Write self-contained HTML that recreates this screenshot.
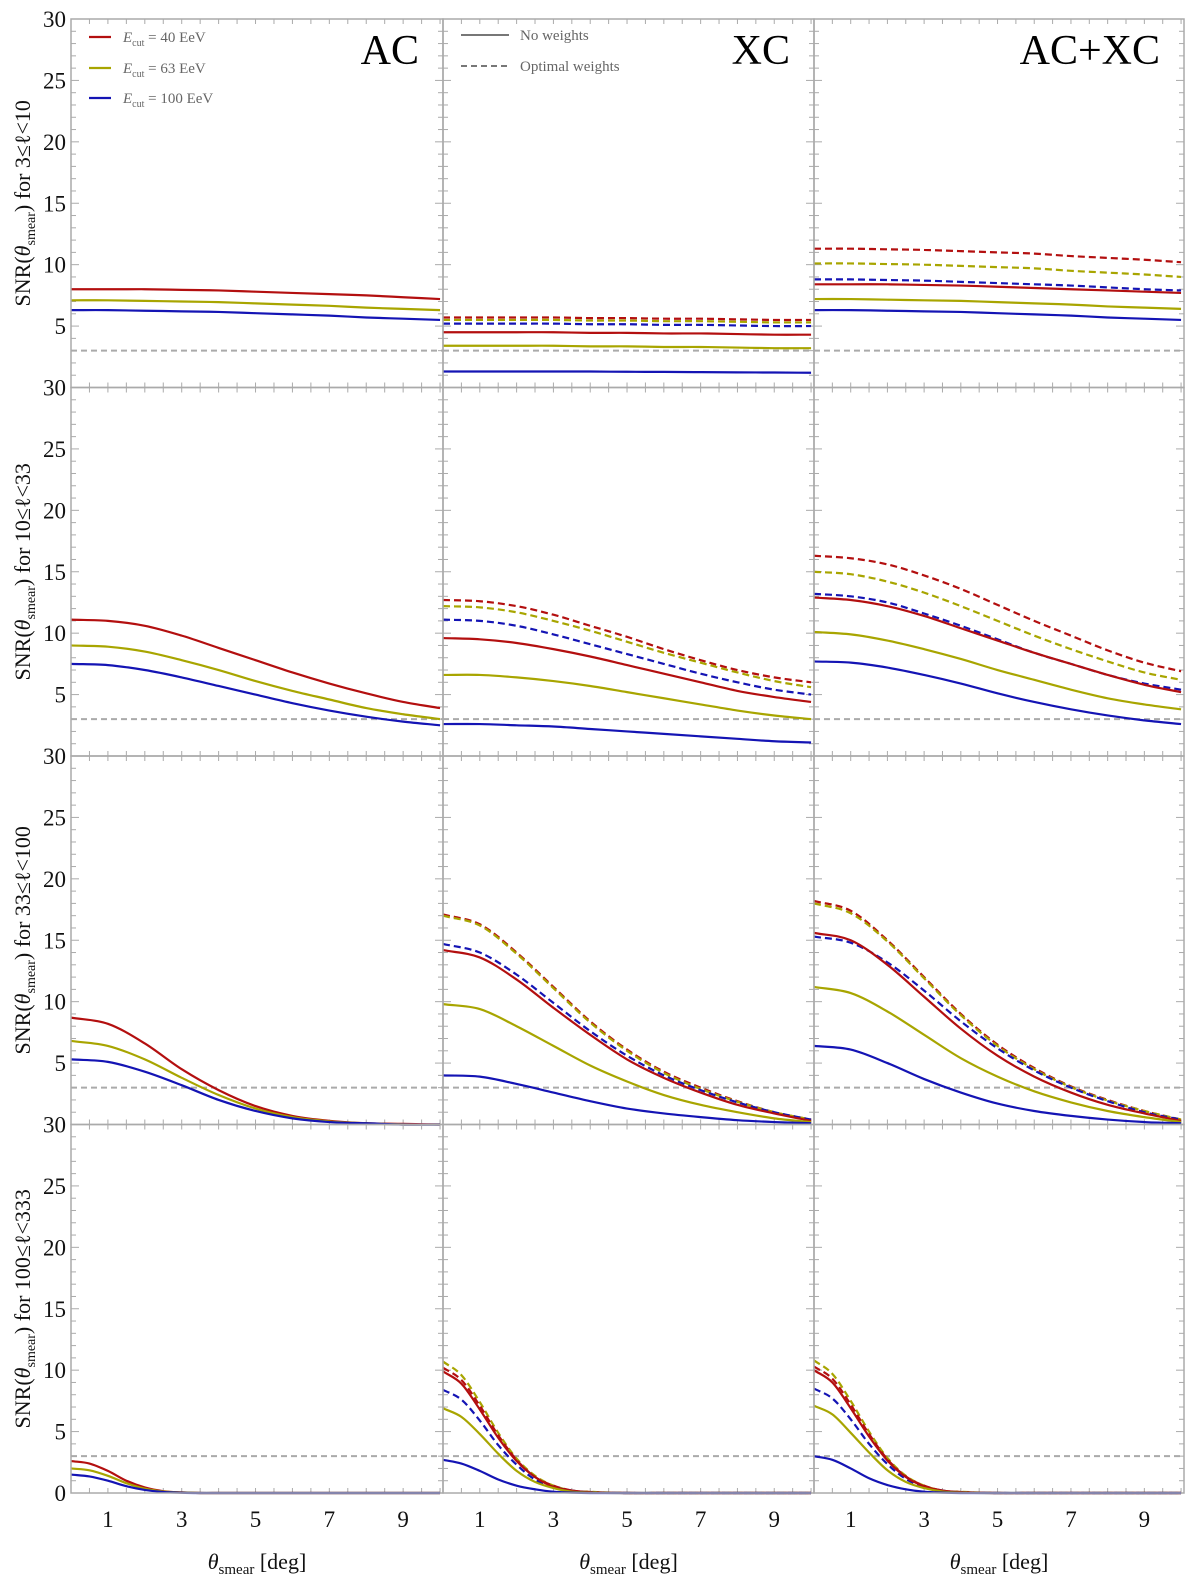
<!DOCTYPE html>
<html><head><meta charset="utf-8">
<style>
html,body{margin:0;padding:0;background:#fff;}
svg{display:block;font-family:"Liberation Serif","DejaVu Serif",serif;}
</style></head>
<body>
<svg id="chart" width="1200" height="1588" viewBox="0 0 1200 1588" xmlns="http://www.w3.org/2000/svg"></svg>
<script>
// ---- data ----
const xsCoarse = [0,1,2,3,4,5,6,7,8,9,10];
const xsFine = [0,0.5,1,1.5,2,2.5,3,3.5,4,5,6,8,10];
const rowLabels = ["3≤ℓ<10","10≤ℓ<33","33≤ℓ<100","100≤ℓ<333"];
const colTitles = ["AC","XC","AC+XC"];
const yTickLabels = [5,10,15,20,25,30];
const xTickLabels = [1,3,5,7,9];
const threshold = 3;

// row 1
const r1_ac_red = [8.0,8.0,8.0,7.95,7.9,7.8,7.7,7.6,7.5,7.35,7.2];
const r1_ac_olv = [7.1,7.1,7.05,7.0,6.95,6.85,6.75,6.65,6.5,6.4,6.3];
const r1_ac_blu = [6.3,6.3,6.25,6.2,6.15,6.05,5.95,5.85,5.7,5.6,5.5];
const r1_xc_red = [4.5,4.5,4.5,4.5,4.45,4.45,4.4,4.4,4.35,4.3,4.3];
const r1_xc_olv = [3.4,3.4,3.4,3.4,3.35,3.35,3.3,3.3,3.25,3.2,3.2];
const r1_xc_blu = [1.3,1.3,1.3,1.3,1.3,1.28,1.27,1.25,1.23,1.22,1.2];
const r1_xc_redD = [5.7,5.7,5.7,5.7,5.65,5.65,5.6,5.6,5.55,5.5,5.5];
const r1_xc_olvD = [5.5,5.5,5.5,5.5,5.45,5.45,5.4,5.4,5.35,5.3,5.3];
const r1_xc_bluD = [5.2,5.2,5.2,5.2,5.15,5.15,5.1,5.1,5.05,5.0,5.0];
const r1_ax_redD = [11.3,11.3,11.25,11.2,11.1,11.0,10.9,10.7,10.55,10.4,10.2];
const r1_ax_olvD = [10.1,10.1,10.05,10.0,9.9,9.8,9.7,9.5,9.35,9.2,9.0];
const r1_ax_bluD = [8.8,8.8,8.75,8.7,8.6,8.5,8.4,8.3,8.15,8.0,7.9];
const r1_ax_red = [8.4,8.4,8.4,8.35,8.3,8.2,8.1,8.0,7.9,7.8,7.7];
const r1_ax_olv = [7.2,7.2,7.15,7.1,7.05,6.95,6.85,6.75,6.6,6.5,6.4];
const r1_ax_blu = [6.3,6.3,6.25,6.2,6.15,6.05,5.95,5.85,5.7,5.6,5.5];
// row 2
const r2_ac_red = [11.1,11.0,10.6,9.8,8.8,7.8,6.8,5.9,5.1,4.4,3.9];
const r2_ac_olv = [9.0,8.9,8.5,7.8,7.0,6.1,5.3,4.6,3.9,3.4,3.0];
const r2_ac_blu = [7.5,7.4,7.0,6.4,5.7,5.0,4.3,3.7,3.2,2.8,2.5];
const r2_xc_red = [9.6,9.5,9.2,8.7,8.1,7.4,6.7,6.0,5.3,4.8,4.4];
const r2_xc_olv = [6.6,6.6,6.4,6.1,5.7,5.2,4.7,4.2,3.7,3.3,3.0];
const r2_xc_blu = [2.6,2.6,2.5,2.4,2.2,2.0,1.8,1.6,1.4,1.2,1.1];
const r2_xc_redD = [12.7,12.6,12.2,11.5,10.6,9.7,8.7,7.8,7.0,6.4,6.0];
const r2_xc_olvD = [12.2,12.1,11.7,11.0,10.2,9.3,8.4,7.6,6.8,6.1,5.6];
const r2_xc_bluD = [11.1,11.0,10.6,9.9,9.1,8.3,7.5,6.7,6.0,5.4,5.0];
const r2_ax_redD = [16.3,16.1,15.6,14.7,13.6,12.3,11.0,9.8,8.6,7.6,6.9];
const r2_ax_olvD = [15.0,14.8,14.2,13.3,12.2,11.0,9.8,8.7,7.7,6.8,6.2];
const r2_ax_bluD = [13.2,13.0,12.5,11.6,10.6,9.5,8.4,7.5,6.6,5.9,5.4];
const r2_ax_red = [12.9,12.7,12.2,11.4,10.4,9.4,8.4,7.5,6.6,5.8,5.2];
const r2_ax_olv = [10.1,9.9,9.4,8.7,7.9,7.0,6.2,5.4,4.7,4.2,3.8];
const r2_ax_blu = [7.7,7.6,7.2,6.6,5.9,5.1,4.4,3.8,3.3,2.9,2.6];
// row 3
const r3_ac_red = [8.7,8.2,6.6,4.5,2.8,1.5,0.7,0.3,0.1,0.05,0];
const r3_ac_olv = [6.8,6.4,5.3,3.8,2.4,1.3,0.6,0.25,0.1,0,0];
const r3_ac_blu = [5.3,5.1,4.3,3.2,2.0,1.1,0.5,0.2,0.1,0,0];
const r3_xc_red = [14.2,13.6,11.8,9.5,7.3,5.3,3.8,2.6,1.6,0.9,0.3];
const r3_xc_olv = [9.8,9.4,8.0,6.4,4.8,3.5,2.4,1.6,1.0,0.5,0.2];
const r3_xc_blu = [4.0,3.9,3.3,2.6,1.9,1.3,0.9,0.6,0.35,0.2,0.1];
const r3_xc_redD = [17.1,16.3,14.0,11.2,8.4,6.1,4.3,3.0,1.9,1.0,0.4];
const r3_xc_olvD = [17.0,16.2,13.9,11.1,8.3,6.0,4.2,2.9,1.85,1.0,0.4];
const r3_xc_bluD = [14.7,14.0,12.2,9.9,7.6,5.6,4.0,2.8,1.8,1.0,0.4];
const r3_ax_redD = [18.2,17.4,15.0,12.0,9.0,6.5,4.6,3.1,2.0,1.1,0.4];
const r3_ax_olvD = [18.0,17.2,14.9,11.9,8.9,6.4,4.5,3.05,1.95,1.1,0.4];
const r3_ax_bluD = [15.3,14.8,13.2,10.9,8.4,6.2,4.4,3.0,1.9,1.0,0.4];
const r3_ax_red = [15.6,15.0,13.0,10.4,7.8,5.6,3.9,2.6,1.6,0.9,0.3];
const r3_ax_olv = [11.2,10.7,9.2,7.3,5.4,3.9,2.7,1.8,1.1,0.6,0.2];
const r3_ax_blu = [6.4,6.1,5.0,3.7,2.6,1.7,1.1,0.7,0.4,0.2,0.1];
// row 4 (fine grid)
const r4_ac_red = [2.6,2.4,1.8,1.0,0.45,0.15,0.05,0,0,0,0,0,0];
const r4_ac_olv = [2.0,1.85,1.4,0.8,0.35,0.12,0.04,0,0,0,0,0,0];
const r4_ac_blu = [1.5,1.35,1.0,0.55,0.25,0.08,0.02,0,0,0,0,0,0];
const r4_xc_red = [9.9,8.9,6.8,4.5,2.6,1.3,0.5,0.2,0.05,0,0,0,0];
const r4_xc_olv = [6.9,6.2,4.8,3.2,1.8,0.9,0.4,0.1,0.03,0,0,0,0];
const r4_xc_blu = [2.7,2.4,1.8,1.1,0.6,0.3,0.1,0.03,0,0,0,0,0];
const r4_xc_redD = [10.2,9.2,7.1,4.7,2.7,1.3,0.6,0.2,0.08,0,0,0,0];
const r4_xc_olvD = [10.7,9.6,7.4,4.9,2.8,1.4,0.6,0.2,0.1,0,0,0,0];
const r4_xc_bluD = [8.4,7.6,5.9,3.9,2.3,1.1,0.5,0.2,0.05,0,0,0,0];
const r4_ax_red = [10.0,9.0,6.9,4.6,2.65,1.3,0.55,0.2,0.06,0,0,0,0];
const r4_ax_olv = [7.1,6.4,4.9,3.3,1.85,0.9,0.4,0.12,0.03,0,0,0,0];
const r4_ax_blu = [3.0,2.7,2.0,1.2,0.65,0.3,0.1,0.03,0,0,0,0,0];
const r4_ax_redD = [10.3,9.3,7.2,4.8,2.75,1.35,0.6,0.2,0.08,0,0,0,0];
const r4_ax_olvD = [10.8,9.7,7.5,5.0,2.85,1.4,0.6,0.2,0.1,0,0,0,0];
const r4_ax_bluD = [8.5,7.7,6.0,4.0,2.35,1.15,0.5,0.2,0.05,0,0,0,0];

const RED="#b30f0f", OLV="#a8a500", BLU="#1414b4";
const panels = [
 [[[r1_ac_red,RED,0,"40"],[r1_ac_olv,OLV,0,"63"],[r1_ac_blu,BLU,0,"100"]],
  [[r1_xc_redD,RED,1,"40"],[r1_xc_olvD,OLV,1,"63"],[r1_xc_bluD,BLU,1,"100"],[r1_xc_red,RED,0,"40"],[r1_xc_olv,OLV,0,"63"],[r1_xc_blu,BLU,0,"100"]],
  [[r1_ax_redD,RED,1,"40"],[r1_ax_olvD,OLV,1,"63"],[r1_ax_bluD,BLU,1,"100"],[r1_ax_red,RED,0,"40"],[r1_ax_olv,OLV,0,"63"],[r1_ax_blu,BLU,0,"100"]]],
 [[[r2_ac_red,RED,0,"40"],[r2_ac_olv,OLV,0,"63"],[r2_ac_blu,BLU,0,"100"]],
  [[r2_xc_redD,RED,1,"40"],[r2_xc_olvD,OLV,1,"63"],[r2_xc_bluD,BLU,1,"100"],[r2_xc_red,RED,0,"40"],[r2_xc_olv,OLV,0,"63"],[r2_xc_blu,BLU,0,"100"]],
  [[r2_ax_redD,RED,1,"40"],[r2_ax_olvD,OLV,1,"63"],[r2_ax_bluD,BLU,1,"100"],[r2_ax_red,RED,0,"40"],[r2_ax_olv,OLV,0,"63"],[r2_ax_blu,BLU,0,"100"]]],
 [[[r3_ac_red,RED,0,"40"],[r3_ac_olv,OLV,0,"63"],[r3_ac_blu,BLU,0,"100"]],
  [[r3_xc_redD,RED,1,"40"],[r3_xc_olvD,OLV,1,"63"],[r3_xc_bluD,BLU,1,"100"],[r3_xc_red,RED,0,"40"],[r3_xc_olv,OLV,0,"63"],[r3_xc_blu,BLU,0,"100"]],
  [[r3_ax_redD,RED,1,"40"],[r3_ax_olvD,OLV,1,"63"],[r3_ax_bluD,BLU,1,"100"],[r3_ax_red,RED,0,"40"],[r3_ax_olv,OLV,0,"63"],[r3_ax_blu,BLU,0,"100"]]],
 [[[r4_ac_red,RED,0,"40"],[r4_ac_olv,OLV,0,"63"],[r4_ac_blu,BLU,0,"100"]],
  [[r4_xc_olvD,OLV,1,"63"],[r4_xc_redD,RED,1,"40"],[r4_xc_bluD,BLU,1,"100"],[r4_xc_red,RED,0,"40"],[r4_xc_olv,OLV,0,"63"],[r4_xc_blu,BLU,0,"100"]],
  [[r4_ax_olvD,OLV,1,"63"],[r4_ax_redD,RED,1,"40"],[r4_ax_bluD,BLU,1,"100"],[r4_ax_red,RED,0,"40"],[r4_ax_olv,OLV,0,"63"],[r4_ax_blu,BLU,0,"100"]]]
];

// ---- layout ----
const colX = [71,443,814,1184];
const rowY = [19,387.5,756,1124.5,1493];
const XMAX = 10.08, YMAX = 30;
const NS="http://www.w3.org/2000/svg";
const svg=document.getElementById("chart");
function mk(tag,attrs,parent){const e=document.createElementNS(NS,tag);for(const k in attrs)e.setAttribute(k,attrs[k]);(parent||svg).appendChild(e);return e;}
function xScale(c,v){return colX[c]+(colX[c+1]-colX[c])*v/XMAX;}
function yScale(r,v){return rowY[r+1]-(rowY[r+1]-rowY[r])*v/YMAX;}
function smoothPath(pts){
  let d="M"+pts[0][0].toFixed(2)+","+pts[0][1].toFixed(2);
  for(let i=0;i<pts.length-1;i++){
    const p0=pts[i-1]||pts[i],p1=pts[i],p2=pts[i+1],p3=pts[i+2]||p2;
    const h=p2[0]-p1[0];
    const s1=(p2[1]-p0[1])/((p2[0]-p0[0])||1), s2=(p3[1]-p1[1])/((p3[0]-p1[0])||1);
    const c1=[p1[0]+h/3,p1[1]+s1*h/3];
    const c2=[p2[0]-h/3,p2[1]-s2*h/3];
    d+=" C"+c1[0].toFixed(2)+","+c1[1].toFixed(2)+" "+c2[0].toFixed(2)+","+c2[1].toFixed(2)+" "+p2[0].toFixed(2)+","+p2[1].toFixed(2);
  }
  return d;
}

for(let r=0;r<4;r++){
  const xs = r===3?xsFine:xsCoarse;
  for(let c=0;c<3;c++){
    const g=mk("g",{});
    
    
    const x0=colX[c],x1=colX[c+1],y0=rowY[r],y1=rowY[r+1];
    const th=mk("line",{x1:x0,x2:x1,y1:yScale(r,threshold),y2:yScale(r,threshold),stroke:"#aaa","stroke-width":2,"stroke-dasharray":"6,4"},g);
    
    
    for(let v=1;v<YMAX;v++){
      const len=(v%5===0)?8:5, y=yScale(r,v);
      mk("line",{x1:x0,x2:x0+len,y1:y,y2:y,stroke:"#aaa","stroke-width":1},g);
      mk("line",{x1:x1,x2:x1-len,y1:y,y2:y,stroke:"#aaa","stroke-width":1},g);
    }
    for(let v=0.5;v<XMAX;v+=0.5){
      const x=xScale(c,v);
      mk("line",{x1:x,x2:x,y1:y1,y2:y1-5,stroke:"#aaa","stroke-width":1},g);
      mk("line",{x1:x,x2:x,y1:y0,y2:y0+5,stroke:"#aaa","stroke-width":1},g);
    }
    panels[r][c].forEach(s=>{
      const pts=xs.map((x,i)=>[xScale(c,x),yScale(r,s[0][i])]);
      const p=mk("path",{d:smoothPath(pts),fill:"none",stroke:s[1],"stroke-width":2.2},g);
      if(s[2])p.setAttribute("stroke-dasharray","7,4");
      
      
    });
    const fr=mk("rect",{x:x0,y:y0,width:x1-x0,height:y1-y0,fill:"none",stroke:"#aaa","stroke-width":1.5},g);
    
    
  }
  const labs = r===3?[0].concat(yTickLabels):yTickLabels;
  labs.forEach(v=>{
    const t=mk("text",{x:66,y:yScale(r,v)+8,"text-anchor":"end","font-size":23,fill:"#111"});
    t.textContent=v;
    
    
  });
  const cy=(rowY[r]+rowY[r+1])/2;
  const yt=mk("text",{x:0,y:0,"font-size":22,fill:"#111","text-anchor":"middle",transform:"translate(30,"+cy+") rotate(-90)"});
  yt.innerHTML='SNR(<tspan font-style="italic">θ</tspan><tspan font-size="14" dy="5">smear</tspan><tspan dy="-5">)  for  '+rowLabels[r]+'</tspan>';
  
  
}
for(let c=0;c<3;c++){
  xTickLabels.forEach(v=>{
    const t=mk("text",{x:xScale(c,v),y:1527,"text-anchor":"middle","font-size":23,fill:"#111"});
    t.textContent=v;
    
    
  });
  const xt=mk("text",{x:(colX[c]+colX[c+1])/2,y:1569,"text-anchor":"middle","font-size":22,fill:"#111"});
  xt.innerHTML='<tspan font-style="italic">θ</tspan><tspan font-size="15" dy="5">smear</tspan><tspan dy="-5"> [deg]</tspan>';
  
  
  const tt=mk("text",{x:colX[c+1]-24,y:64,"text-anchor":"end","font-size":42,fill:"#000"});
  tt.textContent=colTitles[c];
  
  
}
</script>
<div style="position:absolute;left:0;top:0;width:1200px;height:1588px;pointer-events:none;">
<svg width="1200" height="130" style="font-family:'Liberation Serif',serif;">
  <g>
    <line x1="89" x2="111" y1="37" y2="37" stroke="#b30f0f" stroke-width="2.2"/>
    <text x="123" y="42" font-size="15" fill="#666"><tspan font-style="italic">E</tspan><tspan font-size="10" dy="4">cut</tspan><tspan dy="-4"> = 40 EeV</tspan></text>
  </g>
  <g>
    <line x1="89" x2="111" y1="68" y2="68" stroke="#a8a500" stroke-width="2.2"/>
    <text x="123" y="73" font-size="15" fill="#666"><tspan font-style="italic">E</tspan><tspan font-size="10" dy="4">cut</tspan><tspan dy="-4"> = 63 EeV</tspan></text>
  </g>
  <g>
    <line x1="89" x2="111" y1="98" y2="98" stroke="#1414b4" stroke-width="2.2"/>
    <text x="123" y="103" font-size="15" fill="#666"><tspan font-style="italic">E</tspan><tspan font-size="10" dy="4">cut</tspan><tspan dy="-4"> = 100 EeV</tspan></text>
  </g>
  <g>
    <line x1="461" x2="509" y1="35" y2="35" stroke="#777" stroke-width="2"/>
    <text x="520" y="40" font-size="15" fill="#666">No weights</text>
  </g>
  <g>
    <line x1="461" x2="509" y1="66" y2="66" stroke="#777" stroke-width="2" stroke-dasharray="6,4"/>
    <text x="520" y="71" font-size="15" fill="#666">Optimal weights</text>
  </g>
</svg>
</div>
</body></html>
